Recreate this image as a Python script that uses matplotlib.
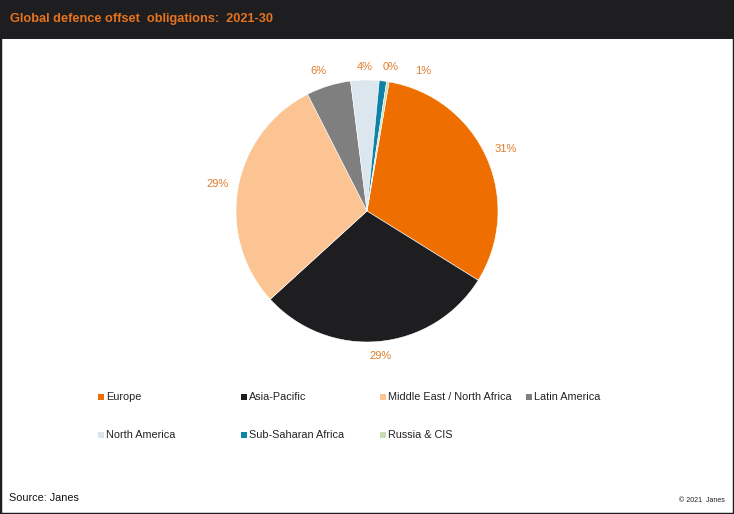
import numpy as np
import matplotlib
matplotlib.use("Agg")
from matplotlib import pyplot as plt
from matplotlib.patches import Rectangle

# ------------ DATA
regions = ["Europe", "Asia-Pacific", "Middle East / North Africa", "Latin America",
           "North America", "Sub-Saharan Africa", "Russia & CIS"]
shares = [31.2, 29.4, 29.3, 5.5, 3.5, 0.9, 0.3]
pct_labels = ["31%", "29%", "29%", "6%", "4%", "1%", "0%"]
colors = ["#EE6F00", "#1E1E21", "#FCC393", "#7F7F7F", "#DCE6EF", "#0F82A8", "#C9DDB5"]

# ------------ STYLE
W, H = 734, 514
dark = "#1E1E21"
orange_title = "#E8731D"
orange_label = "#E07C2C"
# per label nudges (degrees, radius) to mimic the original placement
label_shift = [0, 0, 0, 2, 0, -15, 0]
label_rad = [1.16, 1.11, 1.16, 1.13, 1.10, 1.15, 1.11]

plt.rcParams['font.family'] = ['Liberation Sans', 'DejaVu Sans']

fig = plt.figure(figsize=(W / 100, H / 100), dpi=100)
fig.patch.set_facecolor("white")

# header band + frame
fig.patches.append(Rectangle((0, 1 - 39 / H), 1, 39 / H, transform=fig.transFigure,
                             facecolor=dark, edgecolor="none", zorder=0))
fig.patches.append(Rectangle((0, 0), 1, 1, transform=fig.transFigure,
                             facecolor="none", edgecolor=dark, linewidth=2.5, zorder=5))
fig.text(10 / W, 1 - 19 / H, "Global defence offset  obligations:  2021-30", color=orange_title,
         fontsize=9.2, fontweight="bold", va="center", ha="left")

# pie axes
cx, cy, r = 367, 211, 131
ax = fig.add_axes([(cx - r) / W, (H - cy - r) / H, 2 * r / W, 2 * r / H])
wedges, _ = ax.pie(shares, colors=colors, startangle=80.3, counterclock=False,
                   radius=1, wedgeprops=dict(linewidth=0.4, edgecolor="white"))
ax.set_xlim(-1, 1)
ax.set_ylim(-1, 1)
ax.set_aspect("equal")
ax.axis("off")

for w, lab, sh, rr in zip(wedges, pct_labels, label_shift, label_rad):
    ang = np.deg2rad((w.theta1 + w.theta2) / 2 + sh)
    ax.text(rr * np.cos(ang), rr * np.sin(ang), lab, color=orange_label, fontsize=8,
            ha="center", va="center", clip_on=False)

# legend, drawn on a fixed grid like the original
col_x = [101, 244, 383, 529]
row_y = [397, 435]
for i, (name, c) in enumerate(zip(regions, colors)):
    x = col_x[i % 4]
    y = row_y[i // 4]
    fig.patches.append(Rectangle(((x - 3) / W, 1 - (y + 3) / H), 6 / W, 6 / H,
                                 transform=fig.transFigure, facecolor=c, edgecolor="none"))
    fig.text((x + 5) / W, 1 - y / H, name, fontsize=7.8, color="#222222",
             va="center", ha="left")

fig.text(9 / W, 1 - 498 / H, "Source: Janes", fontsize=7.8, color="#111111", va="center")
fig.text(725 / W, 1 - 501 / H, "\u00a9 2021  Janes", fontsize=5, color="#222222",
         va="center", ha="right")

fig.savefig("out.png", dpi=100)
